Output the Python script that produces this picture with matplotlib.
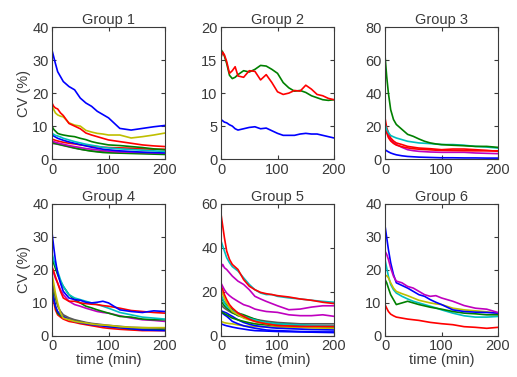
import numpy as np
import matplotlib
matplotlib.use("Agg")
import matplotlib.pyplot as plt

plt.rcParams['font.family'] = ['Liberation Sans', 'DejaVu Sans']

# time grid (min) used for every group except group 2
T = [0, 3, 6, 10, 15, 20, 30, 40, 50, 60, 70, 80, 90, 100, 120, 140, 160, 180, 200]
T2 = [0, 3, 6, 10, 15, 20, 25, 30, 40, 50, 60, 70, 80, 90, 100, 110, 120, 130,
      140, 150, 160, 170, 180, 190, 200]

B = (0, 0, 1)
G = (0, 0.5, 0)
R = (1, 0, 0)
C = (0, 0.75, 0.75)
M = (0.75, 0, 0.75)
Y = (0.75, 0.75, 0)
K = (0.35, 0.35, 0.35)

# group 1
g1_blue = [33, 31, 29, 26.5, 25, 23.5, 22, 21, 18.5, 17, 16, 14.5, 13.5, 12.5, 9.3, 8.8, 9.3, 9.8, 10.2]
g1_red = [17, 16, 15.5, 15.2, 14, 13.2, 10.8, 10, 9.2, 7.9, 7.3, 6.8, 6.3, 5.8, 5.3, 4.8, 4.3, 4.0, 3.8]
g1_yel = [16.4, 15, 14, 13.4, 13, 12.8, 11, 10.3, 10, 8.7, 8.2, 7.8, 7.6, 7.3, 7.3, 6.4, 6.8, 7.3, 7.9]
g1_grn = [10, 9, 8.5, 7.8, 7.5, 7.3, 7, 6.8, 6.3, 5.9, 5.3, 4.9, 4.6, 4.3, 4.1, 3.8, 3.5, 3.1, 2.8]
g1_cyn = [7.8, 7.5, 7.2, 7, 6.7, 6.3, 5.8, 5.3, 4.9, 4.5, 4.2, 3.9, 3.6, 3.4, 3.1, 2.9, 2.7, 2.5, 2.3]
g1_blu2 = [7.2, 7, 6.7, 6.3, 6, 5.7, 5.2, 4.8, 4.4, 4, 3.6, 3.3, 3, 2.8, 2.5, 2.3, 2.1, 2, 1.9]
g1_red2 = [6, 5.9, 5.7, 5.5, 5.3, 5.1, 4.8, 4.6, 4.3, 4.1, 3.9, 3.8, 3.6, 3.5, 3.4, 3.3, 3.1, 3, 3]
g1_mag = [5.5, 5.3, 5.1, 4.9, 4.7, 4.5, 4.1, 3.8, 3.5, 3.2, 3, 2.8, 2.6, 2.4, 2.2, 2.1, 2, 1.9, 1.8]
g1_gry = [4.8, 4.7, 4.6, 4.5, 4.3, 4.1, 3.7, 3.3, 3, 2.7, 2.5, 2.3, 2.2, 2.1, 2, 1.9, 1.8, 1.8, 1.7]
g1_grn2 = [5, 4.9, 4.8, 4.6, 4.4, 4.2, 3.8, 3.4, 3, 2.7, 2.4, 2.2, 2, 1.9, 1.8, 1.7, 1.6, 1.5, 1.4]

# group 2 (finer grid T2)
g2_blue = [6, 5.8, 5.6, 5.5, 5.2, 5.0, 4.6, 4.4, 4.6, 4.8, 4.9, 4.6, 4.7, 4.3, 3.9, 3.6, 3.6, 3.6,
           3.8, 3.9, 3.8, 3.8, 3.6, 3.4, 3.2]
g2_grn = [16.6, 16.2, 15.6, 14.5, 12.7, 12.2, 12.4, 12.8, 13.4, 13.2, 13.6, 14.2, 14.1, 13.6, 13.0,
          11.6, 10.8, 10.3, 10.4, 10.1, 9.6, 9.3, 9.0, 8.9, 9.0]
g2_red = [15.4, 16.2, 15.8, 14.8, 13, 13.4, 14, 12.6, 12.4, 13.4, 13.3, 12.0, 12.8, 11.6, 10.2,
          9.8, 10.0, 10.4, 10.3, 11.2, 10.6, 9.8, 9.6, 9.2, 9.0]

# group 3
g3_blue = [5.7, 5, 4.4, 3.7, 3.1, 2.6, 2, 1.6, 1.4, 1.2, 1.1, 1, 0.9, 0.8, 0.8, 0.7, 0.7, 0.6, 0.6]
g3_mag = [20, 17, 14, 11.8, 10, 8.8, 7.1, 5.7, 5.1, 4.7, 4.5, 4.3, 4.2, 4.1, 4.1, 4.1, 3.7, 3.5, 3.3]
g3_red2 = [20, 16, 13, 11, 9.5, 8.5, 7.5, 6.8, 6.3, 6, 5.8, 5.6, 5.4, 5.3, 5.2, 5.1, 5, 5, 5]
g3_red = [25, 19, 16, 12.8, 11, 9.8, 8.8, 7.7, 7.2, 6.7, 6.5, 6.3, 6, 5.7, 6.1, 6.1, 5.7, 5.3, 4.7]
g3_cyn = [21, 18, 16, 14.3, 13.5, 12.8, 11.8, 10.8, 10.3, 9.8, 9.6, 9.4, 9.1, 8.8, 8.8, 8.4, 7.7, 7.3, 6.7]
g3_grn = [62.7, 50, 40, 30, 24, 21, 18, 15, 13.8, 12.2, 10.8, 9.8, 9.2, 8.8, 8.4, 8.1, 7.7, 7.7, 7.1]

# group 4
g4_blue = [31.3, 27, 23, 19, 16, 13.5, 11.5, 11, 10.8, 10.2, 10, 10.2, 10.5, 10, 7.9, 7.4, 7.1, 7.6, 7.4]
g4_red = [21, 19.6, 18, 16, 13.5, 11.5, 10.5, 10.5, 10, 9.8, 9.6, 9.5, 9.2, 9, 8.4, 7.7, 7.4, 7.1, 6.9]
g4_cyn = [25, 23, 21.5, 19.6, 17, 15, 12.5, 11.5, 11, 10.5, 10, 9.5, 9, 8.4, 7.1, 6.4, 5.7, 5.4, 5.1]
g4_grn = [24, 22, 20.5, 18.6, 16.5, 15, 12.5, 11, 10, 9, 8.5, 7.9, 7.4, 6.9, 5.9, 5.7, 5.1, 4.9, 4.9]
g4_mag = [20.6, 19, 17.5, 16, 14, 12.5, 10.5, 9.5, 9, 8.4, 7.9, 7.4, 7.1, 6.9, 6.1, 5.4, 4.9, 4.7, 4.4]
g4_yel = [18.6, 16, 13, 10, 6.9, 5.4, 4.9, 4.4, 4.1, 3.9, 3.6, 3.4, 3.3, 3.2, 2.8, 2.6, 2.5, 2.5, 2.5]
g4_gry = [17, 14, 11.5, 9, 7.5, 6.4, 5.5, 4.9, 4.5, 4.1, 3.8, 3.6, 3.4, 3.2, 2.9, 2.6, 2.5, 2.4, 2.3]
g4_blu2 = [13, 11, 9, 7.4, 6.5, 5.9, 5, 4.4, 4, 3.7, 3.4, 3.2, 3, 2.8, 2.5, 2.2, 1.8, 1.7, 1.6]
g4_grn2 = [15, 12, 9, 6.9, 6.1, 5.7, 5.1, 4.7, 4.3, 3.9, 3.6, 3.4, 3.1, 2.8, 2.5, 2.1, 2, 1.9, 1.8]
g4_red2 = [14, 10.5, 7.9, 6.4, 5.7, 5.1, 4.4, 4.1, 3.7, 3.4, 3.1, 2.8, 2.5, 2.3, 2, 1.8, 1.6, 1.6, 1.6]

# group 5
g5_blu3 = [5.5, 5.2, 4.9, 4.6, 4.3, 4, 3.5, 3.1, 2.7, 2.4, 2.3, 2.2, 2.1, 2, 1.9, 1.8, 1.7, 1.6, 1.5]
g5_yel2 = [6.6, 6.3, 6, 5.8, 5.6, 5.5, 5, 4.6, 4.4, 4.3, 4.2, 4.1, 4.05, 4, 3.9, 3.8, 3.7, 3.6, 3.5]
g5_blu2 = [10.7, 10.2, 9.6, 8.9, 7.8, 6.6, 5.5, 4.6, 4, 3.5, 3.1, 2.7, 2.5, 2.4, 2.2, 2, 1.9, 1.8, 1.8]
g5_blu1 = [11.5, 11.1, 10.8, 10.4, 9.6, 8.9, 7.3, 6.1, 5.3, 4.7, 4.3, 4, 3.7, 3.5, 3.3, 3.1, 2.9, 2.8, 2.7]
g5_grn3 = [11.1, 10.6, 10.1, 9.6, 8.8, 8.1, 7.3, 6.6, 6, 5.5, 5.2, 5, 4.8, 4.6, 4.4, 4.3, 4.3, 4.3, 4.3]
g5_gry = [14.2, 13.3, 12.6, 11.9, 11.1, 10.4, 9.6, 8.9, 8.2, 7.6, 7.1, 6.7, 6.4, 6.1, 5.8, 5.5, 5.5, 5.5, 5.5]
g5_grn2 = [15.7, 14.7, 13.7, 12.7, 11.7, 10.7, 9.2, 8.5, 7.7, 7, 6.4, 5.8, 5.4, 5, 4.8, 4.6, 4.3, 4.1, 4]
g5_grn1 = [17.3, 16.2, 15.2, 14.2, 13, 11.9, 10.4, 9.6, 8.6, 7.6, 6.8, 6.1, 5.8, 5.5, 5.2, 4.9, 4.6, 4.5, 4.3]
g5_cyn2 = [18.8, 17, 15, 13.4, 12.4, 11.5, 10.4, 8.9, 8, 7.3, 6.6, 6.1, 5.8, 5.5, 5.2, 5, 4.8, 4.7, 4.6]
g5_yel1 = [21, 19, 17, 15, 13, 11.1, 9.6, 8.1, 7.3, 6.6, 6, 5.5, 5, 4.6, 4.3, 4, 3.8, 3.6, 3.5]
g5_red2 = [22.9, 21, 18.8, 16.5, 14.2, 12.7, 10.4, 8.9, 7.6, 6.6, 6, 5.5, 5.1, 4.7, 4.5, 4.3, 4.3, 4.3, 4.3]
g5_mag2 = [24, 22.5, 21, 19.5, 18.3, 17.3, 15.7, 14.2, 13.4, 12.2, 11.6, 11.1, 10.9, 10.7, 9.6, 9.2, 9.2, 9.6, 8.9]
g5_mag1 = [31, 32.5, 31, 30.2, 28.7, 27.2, 24.9, 23.4, 21, 18, 16.8, 15.7, 14.7, 13.7, 11.9, 12.2, 13.1, 13.7, 13.7]
g5_cyn = [43.2, 40.9, 38.6, 35.6, 33.3, 31.5, 29.5, 26.4, 23.4, 21, 19.5, 18.8, 18.8, 18, 17.3, 16.8, 16.2, 15.7, 15.3]
g5_red = [55.4, 50, 44.7, 38.6, 34.8, 32.5, 30.2, 25.6, 22.6, 21, 19.8, 19.2, 18.8, 18.3, 17.7, 16.8, 16.2, 15.3, 14.7]

# group 6
g6_red = [9.5, 8.4, 7.4, 6.6, 6.1, 5.7, 5.4, 5.1, 4.9, 4.7, 4.4, 4.1, 3.9, 3.7, 3.4, 2.8, 2.6, 2.3, 2.6]
g6_cyn = [23.2, 20.6, 18.1, 15.6, 14, 13, 12, 11.2, 10.5, 10, 9.5, 9, 8.5, 7.9, 6.9, 6.1, 5.7, 5.7, 5.9]
g6_grn = [17.1, 16.1, 14.5, 12.5, 11, 9.5, 10, 10.5, 10, 9.5, 9.1, 8.7, 8.4, 8.1, 7.4, 6.9, 6.7, 6.4, 6.4]
g6_yel = [18.1, 18.3, 17.6, 16.1, 14.5, 13.5, 12.8, 12.2, 11.5, 10.8, 10.4, 10, 9.7, 9.5, 8.4, 7.9, 7.6, 7.3, 6.9]
g6_blue = [33.4, 29.8, 26.2, 22.2, 18.6, 16.1, 15.3, 14.5, 13.5, 12.5, 12, 11, 10.2, 9.5, 7.9, 7.4, 7.2, 7.1, 6.9]
g6_mag = [25.7, 24.7, 23.2, 20.6, 18.1, 16.6, 16.1, 15, 14.5, 13.5, 12.5, 12, 12.2, 11.5, 10.5, 9.2, 8.4, 8.1, 7.1]

groups = [
    ("Group 1", T, 40, [10, 20, 30, 40],
     [(g1_gry, K), (g1_grn2, G), (g1_mag, M), (g1_red2, R), (g1_blu2, B), (g1_cyn, C),
      (g1_grn, G), (g1_yel, Y), (g1_red, R), (g1_blue, B)]),
    ("Group 2", T2, 20, [5, 10, 15, 20],
     [(g2_blue, B), (g2_grn, G), (g2_red, R)]),
    ("Group 3", T, 80, [20, 40, 60, 80],
     [(g3_blue, B), (g3_mag, M), (g3_red2, R), (g3_red, R), (g3_cyn, C), (g3_grn, G)]),
    ("Group 4", T, 40, [10, 20, 30, 40],
     [(g4_red2, R), (g4_grn2, G), (g4_blu2, B), (g4_gry, K), (g4_yel, Y), (g4_mag, M),
      (g4_grn, G), (g4_cyn, C), (g4_red, R), (g4_blue, B)]),
    ("Group 5", T, 60, [20, 40, 60],
     [(g5_blu3, B), (g5_yel2, Y), (g5_blu2, B), (g5_blu1, B), (g5_grn3, G), (g5_gry, K),
      (g5_grn2, G), (g5_grn1, G), (g5_cyn2, C), (g5_yel1, Y), (g5_red2, R), (g5_mag2, M),
      (g5_mag1, M), (g5_cyn, C), (g5_red, R)]),
    ("Group 6", T, 40, [10, 20, 30, 40],
     [(g6_red, R), (g6_cyn, C), (g6_grn, G), (g6_yel, Y), (g6_blue, B), (g6_mag, M)]),
]

txt = '#3a3a3a'
fs = 10.5
fig = plt.figure(figsize=(5.17, 3.77), dpi=100)
lefts = [0.1006, 0.4275, 0.7447]
bottoms = [0.578, 0.109]
w, h = 0.2186, 0.350

for i, (title, t, ymax, yt, lines) in enumerate(groups):
    row, col = divmod(i, 3)
    ax = fig.add_axes([lefts[col], bottoms[row], w, h])
    for vals, c in lines:
        ax.plot(t, vals, color=c, lw=1.2)
    ax.set_xlim(0, 200)
    ax.set_ylim(0, ymax)
    ax.set_xticks([0, 100, 200])
    ax.set_yticks([0] + yt)
    ax.tick_params(direction='in', length=3, top=True, right=True, labelsize=fs,
                   colors=txt, width=0.8, pad=2.5)
    for s in ax.spines.values():
        s.set_color(txt)
        s.set_linewidth(0.8)
    ax.set_title(title, fontsize=fs, color=txt, pad=2)
    if col == 0:
        ax.set_ylabel('CV (%)', fontsize=fs, color=txt, labelpad=1)
    if row == 1:
        ax.set_xlabel('time (min)', fontsize=fs, color=txt, labelpad=0)

fig.savefig('out.png', dpi=100)
